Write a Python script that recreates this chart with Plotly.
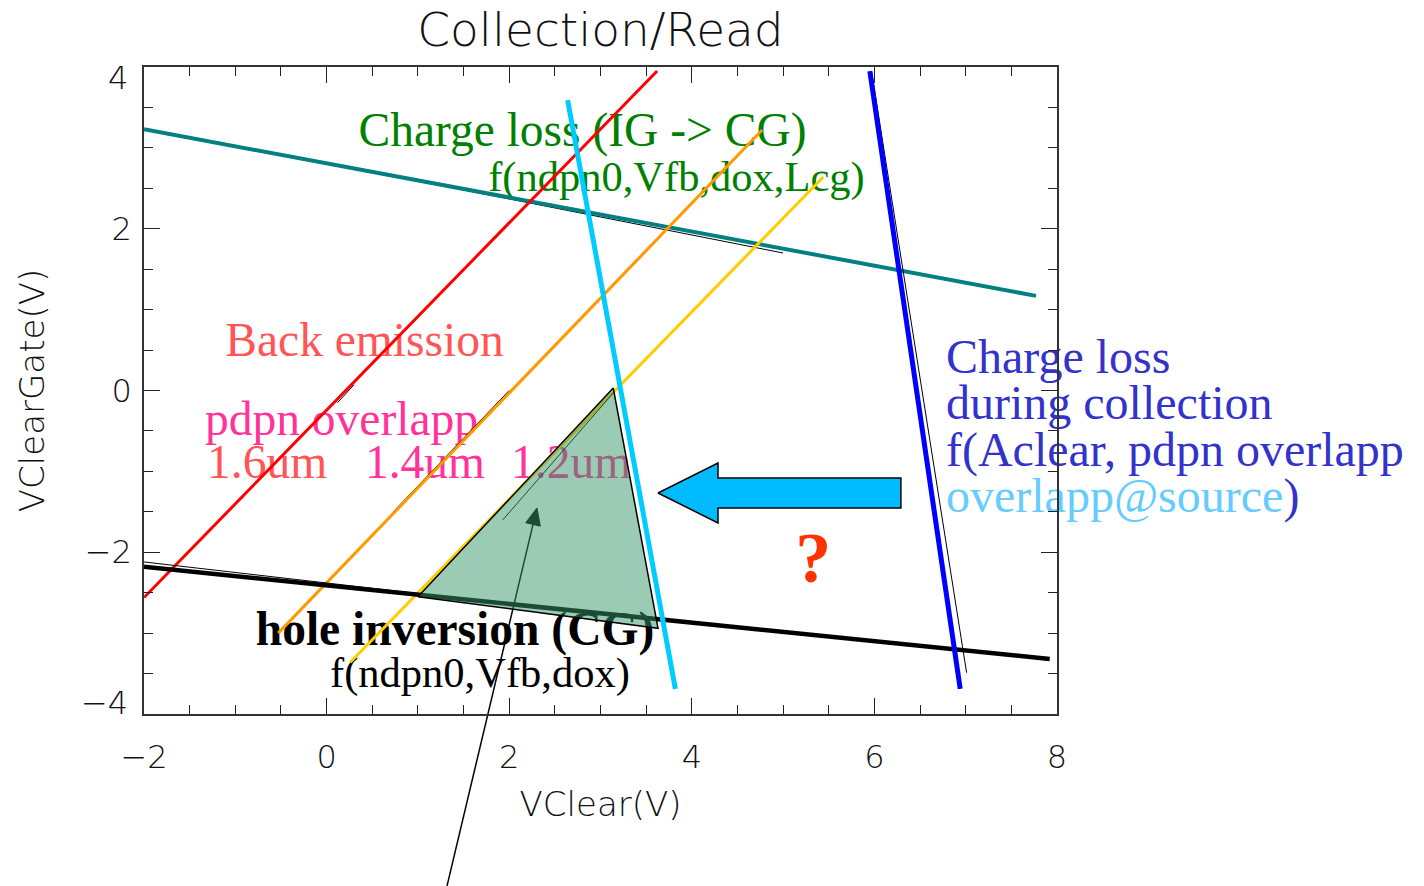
import plotly.graph_objects as go

# ---- boundary lines in the (VClear, VClearGate) plane ----
teal_x = [-2.0, 7.77]
teal_y = [3.23, 1.17]
teal_ref_x = [1.5, 5.0]
teal_ref_y = [2.48, 1.70]

red_x = [-2.0, 3.62]
red_y = [-2.56, 3.95]
red_ref_x = [0.12, 0.30]
red_ref_y = [-0.15, 0.07]

orange_x = [-0.53, 4.77]
orange_y = [-3.00, 3.22]
orange_ref_x = [0.73, 2.00]
orange_ref_y = [-1.50, 0.00]

yellow_x = [0.26, 5.44]
yellow_y = [-3.36, 2.64]
yellow_ref_x = [1.93, 3.14]
yellow_ref_y = [-1.60, -0.03]

cyan_x = [2.64, 3.82]
cyan_y = [3.59, -3.69]

blue_x = [5.95, 6.94]
blue_y = [3.95, -3.69]
blue_ref_x = [5.97, 7.01]
blue_ref_y = [3.94, -3.49]

hole_x = [-2.0, 7.92]
hole_y = [-2.18, -3.32]
hole_ref_x = [-2.0, 1.0]
hole_ref_y = [-2.12, -2.51]

# operating window
window_x = [1.00, 3.14, 3.63]
window_y = [-2.55, 0.03, -2.94]

# block arrow pointing towards the window
block_x = [3.63, 4.287, 4.287, 6.29, 6.29, 4.287, 4.287]
block_y = [-1.267, -0.896, -1.082, -1.082, -1.452, -1.452, -1.638]

# pointer arrow (tail below the axes, head inside the window)
pointer_tail = (1.319, -6.125)
pointer_head = (2.304, -1.452)

X_RANGE = [-2, 8]
Y_RANGE = [-4, 4]
y_tick_vals = [-4, -2, 0, 2, 4]
y_tick_text = ["\u22124", "\u22122", "0", "2", "4"]

# ---- labels ----
SERIF = "Liberation Serif"
SANS = "DejaVu Sans"

center_labels = [
    # text, x, y, size, color, bold
    ("Charge loss (IG -> CG)", 2.803, 3.176, 47.5, "#008000", False),
    ("f(ndpn0,Vfb,dox,Lcg)", 3.832, 2.593, 42.5, "#008000", False),
    ("Back emission", 0.415, 0.568, 47.5, "#FF5555", False),
    ("hole inversion (CG)", 1.406, -3.0, 47.5, "#000000", True),
    ("f(ndpn0,Vfb,dox)", 1.68, -3.53, 42.5, "#000000", False),
    ("?", 5.33, -2.15, 72, "#FF3300", True),
]

left_labels = [
    ("pdpn overlapp", -1.332, -0.40, 47.5, "#FF3399"),
    ("1.6um", -1.31, -0.94, 47.5, "#FF5555"),
    ("1.4um", 0.42, -0.94, 47.5, "#FF3399"),
    ("1.2um", 2.02, -0.94, 47.5, "#FF3399"),
    ("Charge loss", 6.784, 0.37, 48, "#3333CC"),
    ("during collection", 6.784, -0.20, 48, "#3333CC"),
    ("f(Aclear, pdpn overlapp", 6.784, -0.78, 48, "#3333CC"),
    ("<span style='color:#66CCFF'>overlapp@source</span>)", 6.784, -1.35, 48, "#3333CC"),
]

fig = go.Figure()

# text first so that the lines run over it
for text, x, y, size, color, bold in center_labels:
    fig.add_trace(go.Scatter(
        x=[x], y=[y], mode="text", text=[text], textposition="middle center",
        textfont=dict(family=SERIF, size=size, color=color,
                      weight="bold" if bold else "normal"),
        cliponaxis=False, hoverinfo="skip", showlegend=False))

for text, x, y, size, color in left_labels:
    fig.add_trace(go.Scatter(
        x=[x], y=[y], mode="text", text=[text], textposition="middle right",
        textfont=dict(family=SERIF, size=size, color=color),
        cliponaxis=False, hoverinfo="skip", showlegend=False))


def add_line(xs, ys, color, width):
    fig.add_trace(go.Scatter(x=xs, y=ys, mode="lines",
                             line=dict(color=color, width=width),
                             hoverinfo="skip", showlegend=False))


add_line(teal_ref_x, teal_ref_y, "black", 1)
add_line(teal_x, teal_y, "#008080", 4)
add_line(red_ref_x, red_ref_y, "black", 1)
add_line(red_x, red_y, "#FF0000", 3)
add_line(orange_ref_x, orange_ref_y, "black", 1)
add_line(orange_x, orange_y, "#FF9900", 3)
add_line(yellow_x, yellow_y, "#FFCC00", 3)
add_line(yellow_ref_x, yellow_ref_y, "black", 1)
add_line(hole_ref_x, hole_ref_y, "black", 1)
add_line(hole_x, hole_y, "black", 4.5)
add_line(blue_ref_x, blue_ref_y, "black", 1)
add_line(blue_x, blue_y, "#0000FF", 5)

# translucent window, drawn over the lines and the pointer arrow
fig.add_trace(go.Scatter(
    x=window_x + window_x[:1], y=window_y + window_y[:1], mode="lines",
    fill="toself", fillcolor="rgba(55,151,105,0.5)",
    line=dict(color="black", width=1.5), hoverinfo="skip", showlegend=False))

add_line(cyan_x, cyan_y, "#00CCFF", 5)

fig.add_trace(go.Scatter(
    x=block_x + block_x[:1], y=block_y + block_y[:1], mode="lines",
    fill="toself", fillcolor="#00BBFF",
    line=dict(color="black", width=1.5), hoverinfo="skip", showlegend=False))

# ---- pointer arrow as paper-referenced shapes (extends below the axes) ----
W, H = 1424, 886
M_L, M_R, M_T, M_B = 144, 367, 67, 172
plot_w = W - M_L - M_R
plot_h = H - M_T - M_B


def to_paper(x, y):
    px = (x - X_RANGE[0]) / (X_RANGE[1] - X_RANGE[0])
    py = (y - Y_RANGE[0]) / (Y_RANGE[1] - Y_RANGE[0])
    return px, py


tx, ty = to_paper(*pointer_tail)
hx, hy = to_paper(*pointer_head)
dxp = (hx - tx) * plot_w
dyp = (hy - ty) * plot_h
L = (dxp ** 2 + dyp ** 2) ** 0.5
ux, uy = dxp / L, dyp / L
head_len, head_half = 17, 7.5
bx, by = -ux * head_len, -uy * head_len
left = (bx - uy * head_half, by + ux * head_half)
right = (bx + uy * head_half, by - ux * head_half)


def off(p):
    return hx + p[0] / plot_w, hy + p[1] / plot_h


lx, ly = off(left)
rx, ry = off(right)
mx, my = off((bx * 0.8, by * 0.8))

fig.add_shape(type="line", xref="paper", yref="paper", layer="below",
              x0=tx, y0=ty, x1=mx, y1=my, line=dict(color="black", width=1.5))
fig.add_shape(type="path", xref="paper", yref="paper", layer="below",
              path=f"M {hx} {hy} L {lx} {ly} L {rx} {ry} Z",
              fillcolor="black", line=dict(color="black", width=1))

axis_font = dict(family=SANS, size=32, color="#111", weight=200)

# end labels of the y axis sit just inside the frame
inner_shift = 11 / plot_h * (Y_RANGE[1] - Y_RANGE[0])
for val, txt in zip(y_tick_vals, y_tick_text):
    if val in (Y_RANGE[0], Y_RANGE[1]):
        yy = val + inner_shift if val == Y_RANGE[0] else val - inner_shift
        fig.add_annotation(x=-14 / plot_w, xref="paper", xanchor="right",
                           y=yy, yref="y", yanchor="middle", text=txt,
                           showarrow=False, font=axis_font)
y_tick_labels = ["" if v in (Y_RANGE[0], Y_RANGE[1]) else t
                 for v, t in zip(y_tick_vals, y_tick_text)]

fig.update_layout(
    width=W, height=H, autosize=False,
    margin=dict(l=M_L, r=M_R, t=M_T, b=M_B),
    paper_bgcolor="white", plot_bgcolor="rgba(0,0,0,0)",
    title=dict(text="Collection/Read", x=0.5, xref="paper", xanchor="center",
               y=1 - 30 / H, yref="container", yanchor="middle",
               font=dict(family=SANS, size=47, color="#111", weight=200)),
    xaxis=dict(range=X_RANGE, dtick=2, tick0=-2, ticks="inside", ticklen=16,
               tickwidth=1.2, tickcolor="#222", showline=True, linecolor="#333",
               linewidth=1.5, mirror="ticks", showgrid=False, zeroline=False,
               tickfont=axis_font, ticklabelstandoff=14,
               minor=dict(dtick=0.5, ticks="inside", ticklen=9, tickwidth=1.2,
                          tickcolor="#222", showgrid=False),
               title=dict(text="VClear(V)", font=dict(family=SANS, size=34, color="#111", weight=200),
                          standoff=17)),
    yaxis=dict(range=Y_RANGE, tickvals=y_tick_vals, ticktext=y_tick_labels,
               ticks="inside", ticklen=16,
               tickwidth=1.2, tickcolor="#222", showline=True, linecolor="#333",
               linewidth=1.5, mirror="ticks", showgrid=False, zeroline=False,
               tickfont=axis_font, ticklabelstandoff=4,
               minor=dict(dtick=0.5, ticks="inside", ticklen=9, tickwidth=1.2,
                          tickcolor="#222", showgrid=False),
               title=dict(text="VClearGate(V)", font=dict(family=SANS, size=34, color="#111", weight=200),
                          standoff=30)),
)

fig.write_html("out.html")
